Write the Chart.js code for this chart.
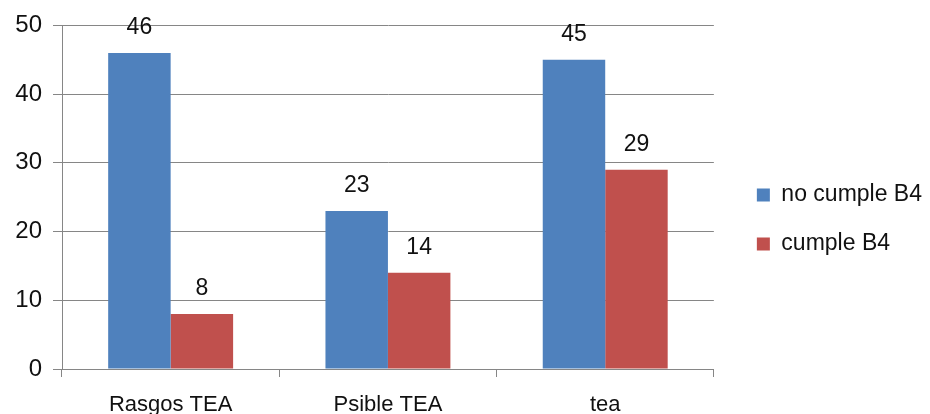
<!DOCTYPE html>
<html>
<head>
<meta charset="utf-8">
<script src="https://cdn.jsdelivr.net/npm/chart.js@4/dist/chart.umd.min.js"></script>
<style>
  html, body { margin: 0; padding: 0; background: #fff; }
  #wrap { width: 930px; height: 414px; }
</style>
</head>
<body>
<div id="wrap"><canvas id="chart" width="930" height="414"></canvas></div>
<script>
// datos
const categories = ['Rasgos TEA', 'Psible TEA', 'tea'];
const noCumple = [46, 23, 45];
const cumple = [8, 14, 29];
const seriesNames = ['no cumple B4', 'cumple B4'];
const yTicks = [0, 10, 20, 30, 40, 50];

const FONT = "'Liberation Sans', Arial, sans-serif";
const GRID = '#868686';
const TEXT = '#111111';

// etiquetas de valor encima de cada barra
const valueLabels = {
    id: 'valueLabels',
    afterDatasetsDraw(chart) {
        const ctx = chart.ctx;
        ctx.save();
        ctx.font = '23px ' + FONT;
        ctx.fillStyle = TEXT;
        ctx.textAlign = 'center';
        ctx.textBaseline = 'middle';
        chart.data.datasets.forEach((ds, i) => {
            const meta = chart.getDatasetMeta(i);
            meta.data.forEach((bar, j) => {
                ctx.fillText(String(ds.data[j]), bar.x, bar.y - 25);
            });
        });
        ctx.restore();
    }
};

new Chart(document.getElementById('chart').getContext('2d'), {
    type: 'bar',
    data: {
        labels: categories,
        datasets: [
            {
                label: seriesNames[0],
                data: noCumple,
                backgroundColor: '#4F81BD',
                categoryPercentage: 0.575,
                barPercentage: 1.0
            },
            {
                label: seriesNames[1],
                data: cumple,
                backgroundColor: '#C0504D',
                categoryPercentage: 0.575,
                barPercentage: 1.0
            }
        ]
    },
    options: {
        responsive: false,
        animation: false,
        devicePixelRatio: 1,
        layout: { padding: { top: 25, left: 0, right: -2, bottom: 0 } },
        plugins: {
            legend: {
                position: 'right',
                labels: {
                    boxWidth: 13,
                    boxHeight: 13,
                    padding: 26,
                    color: TEXT,
                    font: { family: FONT, size: 23 }
                }
            },
            tooltip: { enabled: false }
        },
        scales: {
            x: {
                grid: {
                    offset: true,
                    drawOnChartArea: false,
                    drawTicks: true,
                    tickLength: 8,
                    color: GRID
                },
                border: { color: GRID },
                ticks: {
                    color: TEXT,
                    padding: 15,
                    font: { family: FONT, size: 22 }
                },
                afterFit(scale) { scale.height = 45; }
            },
            y: {
                min: 0,
                max: 50,
                afterBuildTicks(scale) {
                    scale.ticks = yTicks.map(v => ({ value: v }));
                },
                grid: {
                    color: GRID,
                    tickLength: 9
                },
                border: { color: GRID },
                ticks: {
                    color: TEXT,
                    padding: 11,
                    font: { family: FONT, size: 24 }
                },
                afterFit(scale) { scale.width = 62; }
            },
            // eje oculto que solo deja hueco entre el gráfico y la leyenda
            gap: {
                type: 'linear',
                position: 'right',
                display: false,
                afterFit(scale) { scale.width = 17; }
            }
        }
    },
    plugins: [valueLabels]
});
</script>
</body>
</html>
